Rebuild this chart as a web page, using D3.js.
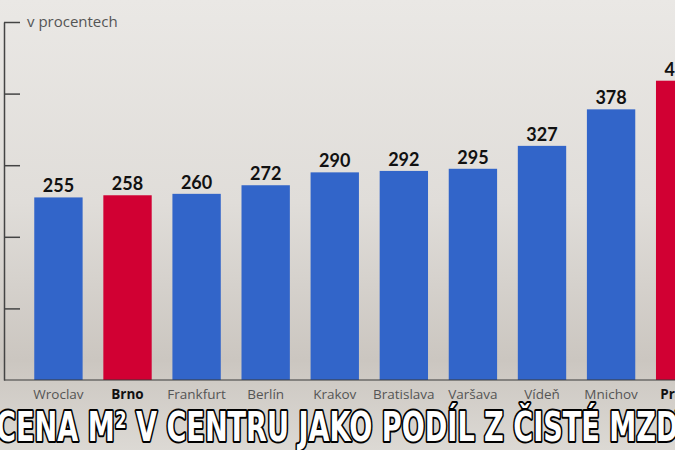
<!DOCTYPE html>
<html>
<head>
<meta charset="utf-8">
<script src="https://cdn.jsdelivr.net/npm/d3@7"></script>
<style>
  html, body { margin: 0; padding: 0; overflow: hidden; }
  svg { display: block; }
</style>
</head>
<body>
<svg id="chart"></svg>
<script>
const cities = ["Wroclav", "Brno", "Frankfurt", "Berlín", "Krakov", "Bratislava", "Varšava", "Vídeň", "Mnichov", "Praha"];
const values = [255, 258, 260, 272, 290, 292, 295, 327, 378, 418];
const highlighted = ["Brno", "Praha"];
const yTicks = [100, 200, 300, 400, 500];
const unitLabel = "v procentech";
const title = "CENA M² V CENTRU JAKO PODÍL Z ČISTÉ MZDY";

const w = 675;
const h = 450;
const blue = "#3265c9";
const red = "#d10033";

const svg = d3.select("#chart").attr("width", w).attr("height", h);

// background gradient
const defs = svg.append("defs");
const grad = defs.append("linearGradient").attr("id", "bg").attr("x1", 0).attr("y1", 0).attr("x2", 0).attr("y2", 1);
grad.append("stop").attr("offset", "0%").attr("stop-color", "#eae8e5");
grad.append("stop").attr("offset", "45%").attr("stop-color", "#e0ddd9");
grad.append("stop").attr("offset", "80%").attr("stop-color", "#cbc6c0");
grad.append("stop").attr("offset", "100%").attr("stop-color", "#dcd9d4");
svg.append("rect").attr("width", w).attr("height", h).attr("fill", "url(#bg)");

const xScale = d3.scaleBand().domain(cities).range([23.9, 714.7]).paddingInner(0.3).paddingOuter(0.15);
const yScale = d3.scaleLinear().domain([0, 500]).range([380, 22]);

// bars
svg.selectAll("rect.bar").data(cities).enter().append("rect")
  .attr("class", "bar")
  .attr("x", d => xScale(d))
  .attr("width", xScale.bandwidth())
  .attr("y", (d, i) => yScale(values[i]))
  .attr("height", (d, i) => yScale(0) - yScale(values[i]))
  .attr("fill", d => highlighted.includes(d) ? red : blue);

// value labels
svg.selectAll("text.val").data(cities).enter().append("text")
  .attr("class", "val")
  .attr("x", d => xScale(d) + xScale.bandwidth() / 2)
  .attr("y", (d, i) => yScale(values[i]) - 5)
  .attr("text-anchor", "middle")
  .attr("font-family", "Lato, sans-serif")
  .attr("font-weight", "bold")
  .attr("font-size", 18)
  .attr("fill", "#111")
  .text((d, i) => values[i]);

// baseline
svg.append("line")
  .attr("x1", 4).attr("x2", w)
  .attr("y1", yScale(0)).attr("y2", yScale(0))
  .attr("stroke", "#3a3a3a").attr("stroke-width", 1.2);

// y axis (ticks drawn to the right)
const axisY = d3.axisRight(yScale).tickValues(yTicks).tickSize(16).tickSizeOuter(0).tickFormat("");
const gy = svg.append("g").attr("transform", "translate(4,0)").call(axisY);
gy.select(".domain").attr("stroke", "#444").attr("stroke-width", 1.5);
gy.selectAll(".tick line").attr("stroke", "#444").attr("stroke-width", 1.5);

svg.append("text")
  .attr("x", 27).attr("y", yScale(500) + 5)
  .attr("font-family", "'Open Sans', sans-serif")
  .attr("font-size", 15)
  .attr("fill", "#555")
  .text(unitLabel);

// category labels
svg.selectAll("text.cat").data(cities).enter().append("text")
  .attr("class", "cat")
  .attr("x", d => xScale(d) + xScale.bandwidth() / 2)
  .attr("y", 399)
  .attr("text-anchor", "middle")
  .attr("font-family", "'Open Sans', sans-serif")
  .attr("font-size", 13.5)
  .attr("font-weight", d => highlighted.includes(d) ? "bold" : "normal")
  .attr("fill", d => highlighted.includes(d) ? "#111" : "#555")
  .text(d => d);

// title
svg.append("text")
  .attr("x", 346).attr("y", 441)
  .attr("text-anchor", "middle")
  .attr("font-family", "'DejaVu Sans Condensed', 'DejaVu Sans', sans-serif")
  .attr("font-weight", "bold")
  .attr("font-size", 40)
  .attr("textLength", 700)
  .attr("lengthAdjust", "spacingAndGlyphs")
  .attr("fill", "#fff")
  .attr("stroke", "#000")
  .attr("stroke-width", 4)
  .attr("stroke-linejoin", "round")
  .attr("paint-order", "stroke")
  .text(title);
</script>
</body>
</html>
